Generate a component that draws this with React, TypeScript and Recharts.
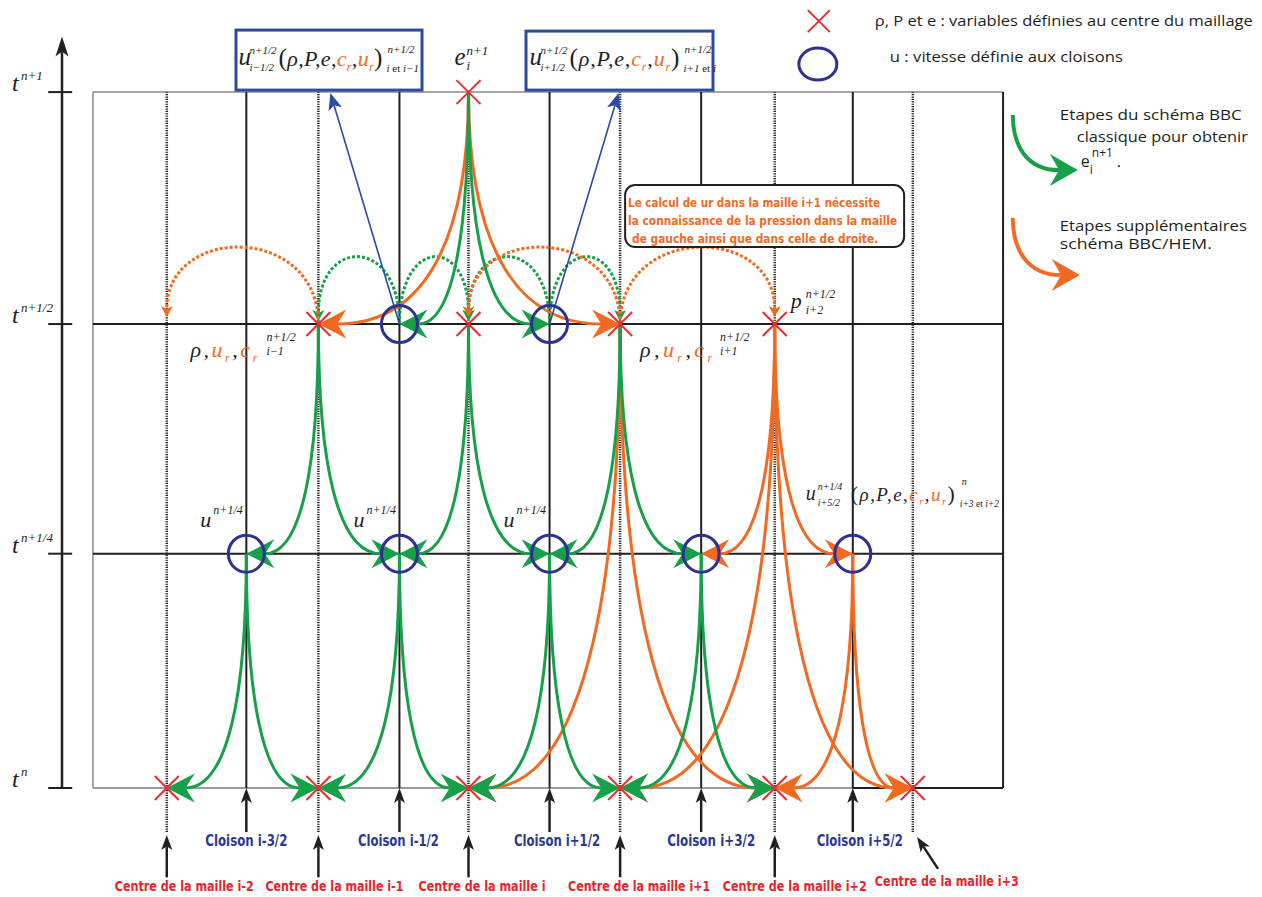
import React from 'react'
import { ScatterChart, Scatter, XAxis, YAxis, ReferenceLine } from 'recharts'

// x: mesh position (centre i = 0), y: time level.
const centres = [-2.01, -1.0, 0, 1.01, 2.04, 2.96] // centre de la maille i-2 .. i+3
const cloisons = [-1.48, -0.46, 0.54, 1.55, 2.56] // cloison i-3/2 .. i+5/2
const levels = [0, 1.01, 2.0, 3.0] // t^n, t^{n+1/4}, t^{n+1/2}, t^{n+1}
const levelExponents = ['n', 'n+1/4', 'n+1/2', 'n+1']

const centreLabels = [
  'Centre de la maille i-2',
  'Centre de la maille i-1',
  'Centre de la maille i',
  'Centre de la maille i+1',
  'Centre de la maille i+2',
  'Centre de la maille i+3',
]
const cloisonLabels = ['Cloison i-3/2', 'Cloison i-1/2', 'Cloison i+1/2', 'Cloison i+3/2', 'Cloison i+5/2']

// nodes: 'c2' = centre i, 'k1' = cloison i-1/2 ; second value = level index
const crossNodes: [string, number][] = [
  ['c2', 3],
  ['c1', 2], ['c2', 2], ['c3', 2], ['c4', 2],
  ['c0', 0], ['c1', 0], ['c2', 0], ['c3', 0], ['c4', 0], ['c5', 0],
]
const circleNodes: [string, number][] = [
  ['k1', 2], ['k2', 2],
  ['k0', 1], ['k1', 1], ['k2', 1], ['k3', 1], ['k4', 1],
]

type Step = [string, number, string, number]
const greenSteps: Step[] = [
  ['c2', 3, 'k1', 2], ['c2', 3, 'k2', 2],
  ['c1', 2, 'k0', 1], ['c1', 2, 'k1', 1], ['c2', 2, 'k1', 1], ['c2', 2, 'k2', 1], ['c3', 2, 'k2', 1], ['c3', 2, 'k3', 1],
  ['k0', 1, 'c0', 0], ['k0', 1, 'c1', 0], ['k1', 1, 'c1', 0], ['k1', 1, 'c2', 0],
  ['k2', 1, 'c2', 0], ['k2', 1, 'c3', 0], ['k3', 1, 'c3', 0], ['k3', 1, 'c4', 0],
]
const orangeSteps: Step[] = [
  ['c2', 3, 'c1', 2], ['c2', 3, 'c3', 2],
  ['c4', 2, 'k3', 1], ['c4', 2, 'k4', 1],
  ['c3', 2, 'c2', 0], ['c3', 2, 'c4', 0], ['c4', 2, 'c3', 0], ['c4', 2, 'c5', 0],
  ['k4', 1, 'c4', 0], ['k4', 1, 'c5', 0],
]
// dotted hops along t^{n+1/2}
const greenDotted: [string, string][] = [['k1', 'c1'], ['k1', 'c2'], ['k2', 'c2'], ['k2', 'c3']]
const orangeDotted: [string, string][] = [['c1', 'c0'], ['c3', 'c2'], ['c3', 'c4']]
// blue arrows from u at t^{n+1/2} up to the boxes: [node, tip x, tip y]
const blueLinks: [string, number, number][] = [['k1', -0.92, 2.996], ['k2', 1.0, 2.996]]

const frameLeft = -2.502
const frameRight = 3.561
const tAxisX = -2.708
const tAxisTop = 3.24
const tickSpan = [-2.8, -2.64]
const belowGrid = -0.19
const centreArrow = [-0.385, -0.203]
const lastCentreArrow = [[3.128, -0.349], [2.988, -0.211]]

const INK = '#231f20'
const GREEN = '#16a04a'
const ORANGE = '#f26a21'
const RED = '#ee2a2f'
const NAVY = '#2e3192'
const BLUE = '#2b4b9f'
const LABEL_RED = '#e8232a'
const LABEL_BLUE = '#2b3990'
const SERIF = "'Liberation Serif', 'Times New Roman', serif"
const SANS = "'Open Sans', 'Liberation Sans', sans-serif"
const NARROW = "'Liberation Sans Narrow', 'DejaVu Sans Condensed', 'Open Sans', sans-serif"

type Pt = { x: number; y: number }

const xOf = (n: string) => (n[0] === 'c' ? centres : cloisons)[Number(n.slice(1))]

function head(tip: Pt, ux: number, uy: number, len: number, half: number, notch: number, color: string) {
  const px = -uy
  const py = ux
  const bx = tip.x - ux * len
  const by = tip.y - uy * len
  const nx = tip.x - ux * (len - notch)
  const ny = tip.y - uy * (len - notch)
  return (
    <polygon
      points={`${tip.x},${tip.y} ${bx + px * half},${by + py * half} ${nx},${ny} ${bx - px * half},${by - py * half}`}
      fill={color}
    />
  )
}

function stepCurve(a: Pt, b: Pt, color: string, width = 3, len = 28, half = 14.5, k1 = 0.6, k2 = 0.3) {
  const s = Math.sign(b.x - a.x) || 1
  const notch = len * 0.33
  const endX = b.x - s * (len - notch)
  const d = `M${a.x},${a.y} C${a.x},${a.y + k1 * (b.y - a.y)} ${a.x + k2 * (endX - a.x)},${b.y} ${endX},${b.y}`
  return (
    <g>
      <path d={d} fill="none" stroke={color} strokeWidth={width} />
      {head(b, s, 0, len, half, notch, color)}
    </g>
  )
}

function dottedArc(a: Pt, b: Pt, color: string, h: number, gap: number) {
  const tip = { x: b.x, y: b.y - gap }
  const d = `M${a.x},${a.y} C${a.x},${a.y - h} ${b.x},${b.y - h} ${b.x},${tip.y - 8}`
  return (
    <g>
      <path d={d} fill="none" stroke={color} strokeWidth={3} strokeDasharray="3 2" />
      {head(tip, 0, 1, 11, 6, 3, color)}
    </g>
  )
}

function straightArrow(a: Pt, b: Pt, color: string, width: number, len: number, half: number) {
  const dist = Math.hypot(b.x - a.x, b.y - a.y)
  const ux = (b.x - a.x) / dist
  const uy = (b.y - a.y) / dist
  const notch = len * 0.25
  return (
    <g>
      <line x1={a.x} y1={a.y} x2={b.x - ux * (len - notch)} y2={b.y - uy * (len - notch)} stroke={color} strokeWidth={width} />
      {head(b, ux, uy, len, half, notch, color)}
    </g>
  )
}

const link = (key: string, from: Pt, to: Pt, draw: (a: Pt, b: Pt) => React.ReactElement) => (
  <Scatter
    key={key}
    data={[from, to]}
    isAnimationActive={false}
    shape={() => <g />}
    line={(lp: any) => draw(lp.points[0], lp.points[1])}
  />
)

const at = (key: string, x: number, y: number, draw: () => React.ReactNode) => (
  <Scatter
    key={key}
    data={[{ x, y }]}
    isAnimationActive={false}
    shape={(p: any) => <g transform={`translate(${p.cx},${p.cy})`}>{draw()}</g>}
  />
)

const it = (x: number, y: number, size: number, body: React.ReactNode, extra: any = {}) => (
  <text x={x} y={y} fontFamily={SERIF} fontStyle="italic" fontSize={size} fill={INK} {...extra}>
    {body}
  </text>
)

const subR = (size: number, letter: string) => [
  <tspan key="a" fill={ORANGE}>{letter}</tspan>,
  <tspan key="b" fill={ORANGE} fontSize={size * 0.55} dy={size * 0.22}>r</tspan>,
]

function fullVars(x: number, y: number, size: number, w: number) {
  return (
    <text x={x} y={y} fontFamily={SERIF} fontStyle="italic" fontSize={size} fill={INK} textLength={w} lengthAdjust="spacing">
      <tspan fontStyle="normal" fontSize={size * 1.15}>(</tspan>
      {'ρ,P,e,'}
      {subR(size, 'c')}
      <tspan dy={-size * 0.22}>,</tspan>
      {subR(size, 'u')}
      <tspan dy={-size * 0.22} fontStyle="normal" fontSize={size * 1.15}>)</tspan>
    </text>
  )
}

function shortVars(x: number, y: number, size: number, w: number) {
  return (
    <text x={x} y={y} fontFamily={SERIF} fontStyle="italic" fontSize={size} fill={INK} textLength={w} lengthAdjust="spacing">
      {'ρ,'}
      {subR(size, 'u')}
      <tspan dy={-size * 0.22}>,</tspan>
      {subR(size, 'c')}
    </text>
  )
}

const etScript = (a: string, b: string) => [
  <tspan key="a">{a}</tspan>,
  <tspan key="b" fontStyle="normal">{' et '}</tspan>,
  <tspan key="c">{b}</tspan>,
]

const cross = (cx: number, cy: number, r = 12) => (
  <g stroke={RED} strokeWidth={2}>
    <line x1={cx - r} y1={cy - r} x2={cx + r} y2={cy + r} />
    <line x1={cx - r} y1={cy + r} x2={cx + r} y2={cy - r} />
  </g>
)

const sansText = (x: number, y: number, size: number, w: number, body: string, extra: any = {}) => (
  <text x={x} y={y} fontFamily={SANS} fontSize={size} fill={INK} dominantBaseline="central" textLength={w} lengthAdjust="spacingAndGlyphs" {...extra}>
    {body}
  </text>
)

const centreDx = [17.5, 16, 13.5, 19, 20, 34]
const centreWidths = [139, 138, 127, 142, 144, 144]
const cloisonDx = [0, -1, 7.5, 10, 7]
const cloisonWidths = [82, 81, 86, 88, 86]

export default function App() {
  const pt = (n: string, l: number): Pt => ({ x: xOf(n), y: levels[l] })

  return (
    <div style={{ position: 'absolute', left: 0, top: 0, width: 1262, height: 897, background: '#fff' }}>
      <ScatterChart width={1262} height={897} margin={{ top: 0, right: 0, bottom: 0, left: 0 }}>
        <XAxis type="number" dataKey="x" domain={[-3.121, 5.286]} hide allowDataOverflow />
        <YAxis type="number" dataKey="y" domain={[-0.47, 3.397]} hide allowDataOverflow />

        {/* frame and time levels */}
        <ReferenceLine segment={[{ x: frameLeft, y: levels[3] }, { x: frameRight, y: levels[3] }]} stroke="#8a8a8a" strokeWidth={1.5} />
        <ReferenceLine segment={[{ x: frameLeft, y: levels[0] }, { x: frameRight, y: levels[0] }]} stroke="#7a7a7a" strokeWidth={1.5} />
        <ReferenceLine segment={[{ x: cloisons[4], y: levels[0] }, { x: frameRight, y: levels[0] }]} stroke={INK} strokeWidth={2} />
        <ReferenceLine segment={[{ x: frameLeft, y: levels[0] }, { x: frameLeft, y: levels[3] }]} stroke="#8a8a8a" strokeWidth={1.5} />
        <ReferenceLine segment={[{ x: frameRight, y: levels[0] }, { x: frameRight, y: levels[3] }]} stroke={INK} strokeWidth={2} />
        {[1, 2].map((l) => (
          <ReferenceLine key={`lv${l}`} segment={[{ x: frameLeft, y: levels[l] }, { x: frameRight, y: levels[l] }]} stroke={INK} strokeWidth={2} />
        ))}
        {cloisons.map((x, i) => (
          <ReferenceLine key={`k${i}`} segment={[{ x, y: levels[0] }, { x, y: levels[3] }]} stroke={INK} strokeWidth={2} />
        ))}
        {centres.map((x, i) => (
          <ReferenceLine key={`c${i}`} segment={[{ x, y: belowGrid }, { x, y: levels[3] }]} stroke={INK} strokeWidth={2.5} strokeDasharray="1.2 1.2" />
        ))}

        {/* time axis */}
        {link('taxis', { x: tAxisX, y: levels[0] }, { x: tAxisX, y: tAxisTop }, (a, b) => straightArrow(a, b, INK, 2.5, 20, 6.5))}
        {levels.map((y, i) => (
          <ReferenceLine key={`tick${i}`} segment={[{ x: tickSpan[0], y }, { x: tickSpan[1], y }]} stroke={INK} strokeWidth={2} />
        ))}
        {levels.map((y, i) =>
          at(`tl${i}`, tAxisX, y, () => (
            <g>
              {it(-50, -1, 24, 't')}
              {it(-41, -12, 13, levelExponents[i])}
            </g>
          ))
        )}

        {/* pointers below the grid */}
        {cloisons.map((x, i) => link(`ka${i}`, { x, y: belowGrid }, { x, y: levels[0] }, (a, b) => straightArrow(a, b, INK, 2.5, 15, 5.5)))}
        {centres.slice(0, 5).map((x, i) =>
          link(`ca${i}`, { x, y: centreArrow[0] }, { x, y: centreArrow[1] }, (a, b) => straightArrow(a, b, INK, 2.5, 15, 5.5))
        )}
        {link(
          'ca5',
          { x: lastCentreArrow[0][0], y: lastCentreArrow[0][1] },
          { x: lastCentreArrow[1][0], y: lastCentreArrow[1][1] },
          (a, b) => straightArrow(a, b, INK, 2.5, 15, 5.5)
        )}
        {centreLabels.map((t, i) =>
          at(`cl${i}`, centres[i], levels[0], () => (
            <text
              x={centreDx[i]}
              y={i === 5 ? 93 : 98}
              textAnchor="middle"
              dominantBaseline="central"
              fontFamily={NARROW}
              fontWeight="bold"
              fontSize={14}
              fill={LABEL_RED}
              textLength={centreWidths[i]}
              lengthAdjust="spacingAndGlyphs"
            >
              {t}
            </text>
          ))
        )}
        {cloisonLabels.map((t, i) =>
          at(`kl${i}`, cloisons[i], levels[0], () => (
            <text
              x={cloisonDx[i]}
              y={53}
              textAnchor="middle"
              dominantBaseline="central"
              fontFamily={NARROW}
              fontWeight="bold"
              fontSize={15}
              fill={LABEL_BLUE}
              textLength={cloisonWidths[i]}
              lengthAdjust="spacingAndGlyphs"
            >
              {t}
            </text>
          ))
        )}

        {/* dotted hops on t^{n+1/2} */}
        {greenDotted.map(([f, t], i) => link(`gd${i}`, pt(f, 2), pt(t, 2), (a, b) => dottedArc(a, b, GREEN, 88, 3)))}
        {orangeDotted.map(([f, t], i) => link(`od${i}`, pt(f, 2), pt(t, 2), (a, b) => dottedArc(a, b, ORANGE, 100, 7)))}

        {/* scheme steps */}
        {orangeSteps.map(([f, lf, t, lt], i) => link(`os${i}`, pt(f, lf), pt(t, lt), (a, b) => stepCurve(a, b, ORANGE)))}
        {greenSteps.map(([f, lf, t, lt], i) => link(`gs${i}`, pt(f, lf), pt(t, lt), (a, b) => stepCurve(a, b, GREEN)))}
        {blueLinks.map(([f, x, y], i) => link(`bl${i}`, pt(f, 2), { x, y }, (a, b) => straightArrow(a, b, BLUE, 1.6, 17, 7)))}

        {/* markers */}
        <Scatter
          data={circleNodes.map(([n, l]) => pt(n, l))}
          isAnimationActive={false}
          shape={(p: any) => <ellipse cx={p.cx} cy={p.cy} rx={18} ry={18.5} fill="none" stroke={NAVY} strokeWidth={3} />}
        />
        <Scatter data={crossNodes.map(([n, l]) => pt(n, l))} isAnimationActive={false} shape={(p: any) => cross(p.cx, p.cy)} />

        {/* formulas at t^{n+1} */}
        {at('top', centres[2], levels[3], () => (
          <g>
            <rect x={-232.5} y={-62} width={186} height={60} fill="#fff" stroke={BLUE} strokeWidth={3} />
            {it(-230, -27, 25, 'u')}
            {it(-219, -38, 11, 'n+1/2')}
            {it(-219, -21, 11, 'i−1/2')}
            {fullVars(-190, -26, 22, 104)}
            {it(-81, -39, 11, 'n+1/2')}
            {it(-82, -20, 11, etScript('i', 'i−1'))}
            {it(-14, -27, 25, 'e')}
            {it(-2, -37, 13, 'n+1')}
            {it(-2, -22, 13, 'i')}
            <rect x={57.5} y={-61} width={187} height={59} fill="#fff" stroke={BLUE} strokeWidth={3} />
            {it(61, -27, 25, 'u')}
            {it(72, -38, 11, 'n+1/2')}
            {it(72, -21, 11, 'i+1/2')}
            {fullVars(101, -26, 22, 110)}
            {it(216, -39, 11, 'n+1/2')}
            {it(215, -20, 11, etScript('i+1', 'i'))}
          </g>
        ))}

        {/* labels at t^{n+1/2} */}
        {at('l2a', centres[1], levels[2], () => (
          <g>
            {shortVars(-128, 33, 22, 67)}
            {it(-52, 17, 12, 'n+1/2')}
            {it(-52, 31, 12, 'i−1')}
          </g>
        ))}
        {at('l2b', centres[3], levels[2], () => (
          <g>
            {shortVars(20, 33, 22, 72)}
            {it(100, 17, 12, 'n+1/2')}
            {it(100, 31, 12, 'i+1')}
          </g>
        ))}
        {at('l2c', centres[4], levels[2], () => (
          <g>
            {it(16, -16, 22, 'p')}
            {it(31, -26, 12, 'n+1/2')}
            {it(31, -10, 12, 'i+2')}
          </g>
        ))}

        {/* labels at t^{n+1/4} */}
        {cloisons.slice(0, 3).map((x, i) =>
          at(`l1${i}`, x, levels[1], () => (
            <g>
              {it(-46, -27, 22, 'u')}
              {it(-33, -40, 12, 'n+1/4')}
            </g>
          ))
        )}
        {at('l1u', cloisons[4], levels[1], () => (
          <g>
            {it(-47, -54, 20, 'u')}
            {it(-35, -64, 10, 'n+1/4')}
            {it(-35, -48, 10, 'i+5/2')}
            {fullVars(-2, -53, 19, 104)}
            {it(109, -69, 10, 'n')}
            {it(107, -47, 9.5, etScript('i+3', 'i+2'))}
          </g>
        ))}

        {/* note */}
        {at('note', centres[3], levels[2], () => (
          <g>
            <rect x={5} y={-139} width={279} height={62} rx={10} fill="#fff" stroke={INK} strokeWidth={2} />
            {[
              ['Le calcul de ur dans la maille i+1 nécessite', 8, -122, 252],
              ['la connaissance de la pression dans la maille', 8, -104, 269],
              ['de gauche ainsi que dans celle de droite.', 12, -86, 246],
            ].map(([t, x, y, w]) => (
              <text
                key={String(t)}
                x={Number(x)}
                y={Number(y)}
                dominantBaseline="central"
                fontFamily={NARROW}
                fontWeight="bold"
                fontSize={13}
                fill={ORANGE}
                textLength={Number(w)}
                lengthAdjust="spacingAndGlyphs"
              >
                {String(t)}
              </text>
            ))}
          </g>
        ))}

        {/* legend */}
        {at('legend', centres[5], levels[3], () => (
          <g>
            {cross(-94, -71, 11)}
            <ellipse cx={-95} cy={-28} rx={19} ry={16} fill="none" stroke={NAVY} strokeWidth={3} />
            {sansText(-38, -72, 15, 378, 'ρ, P et e : variables définies au centre du maillage')}
            {sansText(-23, -36, 15, 233, 'u : vitesse définie aux cloisons')}
            {stepCurve({ x: 100, y: 23 }, { x: 165, y: 78 }, GREEN, 4, 28, 16, 0.55, 0.3)}
            {sansText(147, 22, 15, 182, 'Etapes  du schéma BBC')}
            {sansText(164, 44, 15, 171, 'classique pour obtenir')}
            <text x={168} y={75} fontFamily={SANS} fontSize={16} fill={INK}>e</text>
            <text x={177} y={82} fontFamily={SANS} fontSize={12} fill={INK}>i</text>
            <text x={179} y={65} fontFamily={SANS} fontSize={12} fill={INK}>n+1</text>
            <text x={204} y={75} fontFamily={SANS} fontSize={16} fill={INK}>.</text>
            {stepCurve({ x: 100, y: 126 }, { x: 167, y: 183 }, ORANGE, 4, 28, 16, 0.55, 0.3)}
            {sansText(147, 133, 15, 187, 'Etapes supplémentaires')}
            {sansText(147, 151, 15, 152, 'schéma BBC/HEM.')}
          </g>
        ))}
      </ScatterChart>
    </div>
  )
}
